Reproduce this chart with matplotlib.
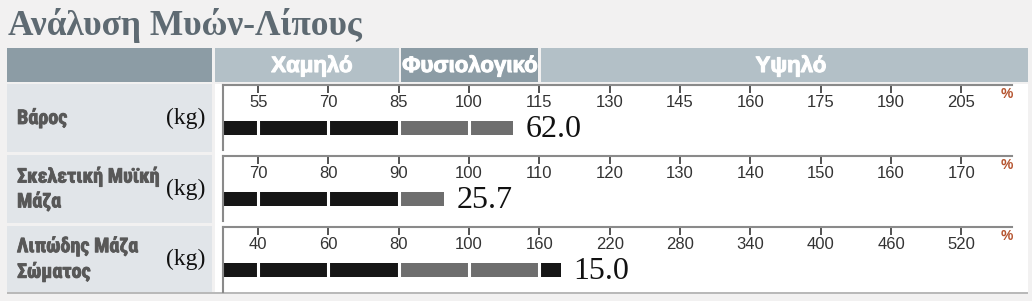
import numpy as np
import matplotlib
matplotlib.use("Agg")
import matplotlib.pyplot as plt
import matplotlib.patheffects as pe
from matplotlib.patches import Rectangle

W, H = 1032, 301

title = "Ανάλυση Μυών-Λίπους"
zones = ["Χαμηλό", "Φυσιολογικό", "Υψηλό"]
row_labels = ["Βάρος", "Σκελετική Μυϊκή\nΜάζα", "Λιπώδης Μάζα\nΣώματος"]
units = ["(kg)", "(kg)", "(kg)"]
values = [62.0, 25.7, 15.0]
pct = [109.3, 96.4, 178.4]          # bar length, % of standard
ticks = [
    [55, 70, 85, 100, 115, 130, 145, 160, 175, 190, 205],
    [70, 80, 90, 100, 110, 120, 130, 140, 150, 160, 170],
    [40, 60, 80, 100, 160, 220, 280, 340, 400, 460, 520],
]
normal = [(85, 115), (90, 110), (80, 160)]

BG = "#f2f1f1"
HEAD_DARK = "#8c9ca5"
HEAD_LIGHT = "#b3c0c7"
CELL = "#e1e5e9"
LINE = "#8a8a8a"
SANS = ["Liberation Sans", "DejaVu Sans"]
NARROW = ["Roboto Condensed", "Liberation Sans", "DejaVu Sans"]
SERIF = ["Liberation Serif", "DejaVu Serif"]

fig = plt.figure(figsize=(W / 100, H / 100), dpi=100, facecolor=BG)


def rect(x0, y0, x1, y1, color):
    fig.patches.append(Rectangle((x0 / W, 1 - y1 / H), (x1 - x0) / W, (y1 - y0) / H,
                                 transform=fig.transFigure, color=color, lw=0, zorder=-1))


def ftext(x, y, s, **kw):
    return fig.text(x / W, 1 - y / H, s, **kw)


def make_scale(tk):
    # piecewise-linear scale: each tick sits one slot apart, half a slot of margin on the left
    vals = [tk[0] - (tk[1] - tk[0]) / 2] + list(tk) + [tk[-1] + 0.72 * (tk[-1] - tk[-2])]
    pos = [0.5] + list(range(1, len(tk) + 1)) + [len(tk) + 0.72]
    fwd = lambda x: np.interp(x, vals, pos)
    inv = lambda p: np.interp(p, pos, vals)
    return fwd, inv, vals[0], vals[-1]


# title
ftext(8, 35, title, family=SERIF, weight="bold", size=25.5, color="#5e6a72", va="baseline")

# header band
rect(7, 48, 212, 82, HEAD_DARK)
rect(215, 48, 399, 82, HEAD_LIGHT)
rect(401, 48, 538, 82, HEAD_DARK)
rect(541, 48, 1028, 82, HEAD_LIGHT)
for s, cx in zip(zones, [312, 470, 791]):
    ftext(cx, 66, s, ha="center", va="center", family=SANS, weight="bold", size=16, color="white",
          path_effects=[pe.withStroke(linewidth=0.8, foreground="white")])

# white panel + bottom rule
rect(215, 84, 1028, 293, "white")
rect(7, 292, 1028, 294, "#b9b9b9")

BAR_Y, BAR_H = 0.338, 0.215
tops = [85, 156, 227]
cells = [(84, 152), (155, 223), (226, 292)]
for i, (top, (c0, c1)) in enumerate(zip(tops, cells)):
    rect(7, c0, 212, c1, CELL)
    cy = (c0 + c1) / 2
    ftext(17, cy, row_labels[i], ha="left", va="center", family=NARROW, weight="bold",
          size=14.5, color="#585858", linespacing=1.35,
          path_effects=[pe.withStroke(linewidth=0.6, foreground="#585858")])
    ftext(205, cy, units[i], ha="right", va="center", family=SERIF, size=17, color="#111")

    ax = fig.add_axes([223 / W, 1 - (top + 65) / H, 789 / W, 65 / H])
    fwd, inv, lo, hi = make_scale(ticks[i])
    ax.set_xscale("function", functions=(fwd, inv))
    ax.set_xlim(lo, hi)
    ax.set_ylim(0, 1)
    ax.patch.set_alpha(0)
    for side in ("top", "right"):
        ax.spines[side].set_visible(False)
    ax.spines["bottom"].set_position(("axes", 1.0))
    for side in ("bottom", "left"):
        ax.spines[side].set_color(LINE)
        ax.spines[side].set_linewidth(1.5)
    ax.set_yticks([])
    ax.set_xticks(ticks[i])
    ax.set_xticklabels([str(t) for t in ticks[i]], family=SANS)
    ax.xaxis.set_minor_locator(matplotlib.ticker.NullLocator())
    ax.tick_params(axis="x", direction="out", length=6, width=1.3, color="#444",
                   pad=1.5, labelsize=12, labelcolor="#333")

    # bar segments, split at ticks, with thin white gaps between them
    inner = [t for t in ticks[i] if t < pct[i]]
    bounds = [lo] + inner + [pct[i]]
    nlo, nhi = normal[i]
    for a, b in zip(bounds[:-1], bounds[1:]):
        col = "#6e6e6e" if (a >= nlo and b <= nhi) else "#161616"
        ax.barh(BAR_Y, b - a, left=a, height=BAR_H, color=col, lw=0)
    ax.vlines(inner, BAR_Y - BAR_H / 2 - 0.02, BAR_Y + BAR_H / 2 + 0.02, color="white", lw=2.2)
    ax.annotate(f"{values[i]:.1f}", xy=(pct[i], BAR_Y), xytext=(9, -1), textcoords="offset points",
                ha="left", va="center", family=SERIF, size=23, color="#111")
    ax.annotate("%", xy=(1, 1), xycoords="axes fraction", xytext=(-5, -9),
                textcoords="offset pixels", ha="center", va="center", family=SANS,
                weight="bold", size=10, color="#b5542f")

fig.savefig("out.png", dpi=100, facecolor=BG)
